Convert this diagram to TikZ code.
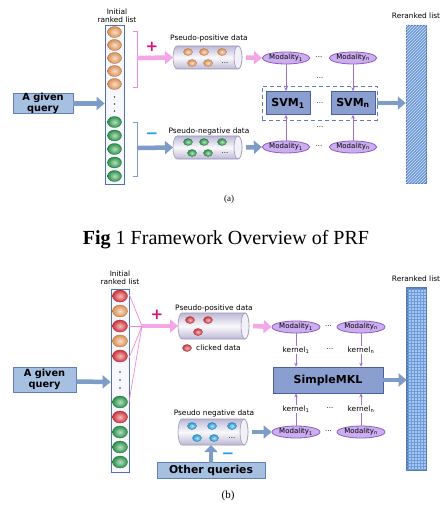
\documentclass[tikz,border=0pt]{standalone}
\usepackage{fontspec}
\setmainfont{Liberation Serif}
\newfontfamily\lab{DejaVu Sans}
\usetikzlibrary{arrows.meta,shapes.geometric,patterns}
\definecolor{orgc}{HTML}{F0A060}
\definecolor{grnc}{HTML}{30A050}
\definecolor{redc}{HTML}{E03C44}
\definecolor{cyac}{HTML}{2AA8E8}
\definecolor{pinkA}{HTML}{F4A6E6}
\definecolor{pinkL}{HTML}{EE88DD}
\definecolor{magen}{HTML}{E0107A}
\definecolor{blueA}{HTML}{7E9CC8}
\definecolor{boxF}{HTML}{A6C0E2}
\definecolor{boxD}{HTML}{5F7FB5}
\definecolor{svmF}{HTML}{8A9ED0}
\definecolor{svmD}{HTML}{4D5E9E}
\definecolor{modF}{HTML}{CCAEEE}
\definecolor{modD}{HTML}{8C5CC8}
\definecolor{purL}{HTML}{A070D8}
\definecolor{listD}{HTML}{5070B0}
\definecolor{rrA}{HTML}{6C9ADA}
\definecolor{rrB}{HTML}{A8C8F0}
\definecolor{cylE}{HTML}{BDB8D6}
\definecolor{cylD}{HTML}{9C96B8}
\definecolor{minusC}{HTML}{1E9FE0}
\tikzset{
  querybox/.style={draw=boxD, fill=boxF, line width=0.8pt, font=\lab\bfseries\fontsize{9.8}{10.8}\selectfont, align=center, inner sep=0pt},
  modal/.style={ellipse, draw=modD, fill=modF, line width=0.8pt, minimum width=44pt, minimum height=12pt, inner sep=0pt, font=\lab\fontsize{7}{7.5}\selectfont},
  svmbox/.style={draw=svmD, fill=svmF, line width=0.7pt, minimum width=44pt, minimum height=23pt, inner sep=0pt, font=\lab\bfseries\fontsize{11}{12}\selectfont},
  lbl/.style={font=\lab\fontsize{7.4}{8.4}\selectfont, inner sep=0pt, align=center},
  pinkarrow/.style={pinkA, line width=4.5pt, -{Triangle[width=13pt,length=8pt]}},
  bluearrow/.style={blueA, line width=4.5pt, -{Triangle[width=13pt,length=8pt]}},
  thinarrow/.style={purL, line width=0.9pt, -{Stealth[length=4pt,width=3.5pt]}},
  listcol/.style={draw=listD, fill=blue!3, line width=0.8pt, inner sep=0pt},
  anch/.style={inner sep=0pt, outer sep=0pt},
  dotsl/.style={font=\lab\fontsize{7}{8}\selectfont, inner sep=0pt},
}
% cylinder: #1 x0, #2 x1 (centre of end ellipse), #3 y0 (top), #4 y1 (bottom)
\newcommand\mycyl[4]{%
  \shade[top color=cylE, bottom color=cylE, middle color=white!92!cylE, draw=cylD, line width=0.6pt]
    ({#1+4},#3) -- (#2,#3) arc[start angle=-90, end angle=90, x radius=4, y radius={(#4-#3)/2}]
    -- ({#1+4},#4) arc[start angle=90, end angle=270, x radius=4, y radius={(#4-#3)/2}] -- cycle;
  \draw[draw=cylD, fill=white!80!cylE, line width=0.6pt] (#2,{(#3+#4)/2}) ellipse[x radius=4, y radius={(#4-#3)/2}];
}
% list ball: colour, x, y, rx, ry
\newcommand\ball[5]{\shade[inner color=#1!35, outer color=#1!90!black, draw=#1!70!black, line width=0.3pt] (#2,#3) ellipse[x radius=#4, y radius=#5];}
\begin{document}
\begin{tikzpicture}[x=1pt,y=-1pt]
\useasboundingbox (0,0) rectangle (443,505);
\fill[white] (0,0) rectangle (443,505);

%%%%%%%%%%%%%%%% (a)
\node[lbl] (ila) at (117,16) {Initial\\ranked list};
\node[listcol, minimum width=19pt, minimum height=159pt] (la) at (114.5,104.5) {};
\foreach \y in {32,45,58,71,84} {\ball{orgc}{114.5}{\y}{7}{5.5}}
\foreach \y in {122,135.5,149,162.5,176} {\ball{grnc}{114.5}{\y}{7}{5.5}}
\foreach \y in {97,104,111} {\fill[black!70] (114.5,\y) circle (0.8);}

\node[querybox, minimum width=60pt, minimum height=19pt] (qa) at (43,103.5) {A given\\query};
\draw[bluearrow] (qa.east) -- (la.west |- qa.east);

% braces
\draw[pinkL, line width=0.8pt] (133,31) -- (137,31) -- (137,87) -- (133,87);
\coordinate (bpa) at (137,58);
\draw[blueA, line width=0.8pt] (133,122) -- (137,122) -- (137,176) -- (133,176);
\coordinate (bna) at (137,148);

% cylinders
\mycyl{173}{238}{46}{69}
\node[anch, minimum width=69pt, minimum height=23pt] (cpa) at (207.5,57.5) {};
\foreach \x/\y in {188/52,204/52,222/52,192/63,208/63} {\ball{orgc}{\x}{\y}{4.5}{3.5}}
\node[dotsl] at (225,63) {...};
\node[lbl] (tpa) at (209,38) {Pseudo-positive data};

\mycyl{173}{238}{136}{159}
\node[anch, minimum width=69pt, minimum height=23pt] (cna) at (207.5,147.5) {};
\foreach \x/\y in {188/142,204/142,222/142,192/153,208/153} {\ball{grnc}{\x}{\y}{4.5}{3.5}}
\node[dotsl] at (225,153) {...};
\node[lbl] (tna) at (209,131) {Pseudo-negative data};

\draw[pinkarrow] (bpa) -- (cpa.west);
\draw[bluearrow] (bna) -- (cna.west);
\node[text=magen, font=\lab\bfseries\fontsize{15}{15}\selectfont, inner sep=0pt] (plusa) at (152,47) {+};
\node[text=minusC, font=\lab\bfseries\fontsize{15}{15}\selectfont, inner sep=0pt] (mina) at (152,136) {−};

% modalities
\node[modal] (mpa1) at (286,58) {Modality\textsubscript{1}};
\node[modal] (mpan) at (353,58) {Modality\textsubscript{n}};
\node[modal] (mna1) at (286,147) {Modality\textsubscript{1}};
\node[modal] (mnan) at (353,147) {Modality\textsubscript{n}};
\node[dotsl] at (319,58) {···};
\node[dotsl] at (319,147) {···};
\draw[pinkarrow] (cpa.east) ++(4,0) -- (mpa1.west);
\draw[bluearrow] (cna.east) ++(4,0) -- (mna1.west);

% SVMs
\node[draw=boxD, dashed, dash pattern=on 4pt off 3pt, line width=0.9pt, minimum width=115pt, minimum height=34pt, inner sep=0pt] (dbox) at (319.5,103) {};
\node[svmbox] (svm1) at (288,103) {SVM\textsubscript{1}};
\node[svmbox] (svmn) at (353,103) {SVM\textsubscript{n}};
\node[dotsl] at (320,103) {...};
\node[dotsl] at (320,78) {...};
\node[dotsl] at (320,127) {...};
\draw[thinarrow] (mpa1.south) -- (mpa1.south |- svm1.north);
\draw[thinarrow] (mpan.south) -- (mpan.south |- svmn.north);
\draw[thinarrow] (mna1.north) -- (mna1.north |- svm1.south);
\draw[thinarrow] (mnan.north) -- (mnan.north |- svmn.south);

% reranked list (a)
\node[lbl] (rla) at (416,16) {Reranked list};
\node[draw=rrA!80!black, fill=rrA, line width=0.5pt, minimum width=20pt, minimum height=158pt, inner sep=0pt] (rra) at (416,104) {};
\fill[pattern=north east lines, pattern color=white!70!rrA] (rra.south west) rectangle (rra.north east);
\draw[bluearrow] (dbox.east) -- (rra.west |- dbox.east);

\node[font=\fontsize{9}{10}\selectfont, inner sep=0pt] (capa) at (229,199) {(a)};
\node[font=\fontsize{20}{22}\selectfont, inner sep=0pt] (fig) at (226,240) {\textbf{Fig} 1 Framework Overview of PRF};

%%%%%%%%%%%%%%%% (b)
\node[lbl] (ilb) at (120,278) {Initial\\ranked list};
\node[listcol, minimum width=18pt, minimum height=183pt] (lb) at (120,380.5) {};
\foreach \y/\c in {296/redc,311/orgc,326/redc,341/orgc,356/redc,402/grnc,417/redc,432/grnc,447/grnc,462/grnc} {\ball{\c}{120}{\y}{7.5}{6}}
\foreach \y in {372,380,388} {\fill[black!70] (120,\y) circle (0.8);}

\node[querybox, minimum width=63pt, minimum height=25pt] (qb) at (44.5,379.5) {A given\\query};
\draw[bluearrow] (qb.east) ++(0,2) -- (lb.west |- 0,382);

% pink converging lines
\coordinate (cv) at (142,326);
\coordinate (r1) at (129,294);
\coordinate (r3) at (129,326);
\coordinate (r5) at (129,358);
\coordinate (r7) at (129,402);
\foreach \r in {r1,r3,r5,r7} {\draw[pinkL, line width=0.7pt] (\r) -- (cv);}

\mycyl{178}{245}{313}{339}
\node[anch, minimum width=71pt, minimum height=26pt] (cpb) at (213.5,326) {};
\foreach \x/\y in {190/320,208/320,198/332} {\ball{redc}{\x}{\y}{4.5}{3.5}}
\node[lbl] (tpb) at (214,308) {Pseudo-positive data};
\ball{redc}{187}{348}{4.5}{3.5}
\node[lbl, anchor=west] (clk) at (196,348) {clicked data};

\draw[pinkarrow] (cv) -- (cpb.west);
\node[text=magen, font=\lab\bfseries\fontsize{15}{15}\selectfont, inner sep=0pt] (plusb) at (157,315) {+};

\mycyl{178}{244}{419}{445}
\node[anch, minimum width=70pt, minimum height=26pt] (cnb) at (213,432) {};
\foreach \x/\y in {192/426,212/426,232/426,197/438,214/438} {\ball{cyac}{\x}{\y}{4.5}{3.5}}
\node[dotsl] at (232,438) {...};
\node[lbl] (tnb) at (214,413) {Pseudo negative data};

\node[querybox, font=\lab\bfseries\fontsize{10.8}{11.8}\selectfont, minimum width=108pt, minimum height=16pt] (oq) at (211,470.5) {Other queries};
\draw[bluearrow, -{Triangle[width=13pt,length=7pt]}] (211,462.5) -- (cnb.south -| 211,0);
\node[text=minusC, font=\lab\bfseries\fontsize{15}{15}\selectfont, inner sep=0pt] (minb) at (228,456) {−};

% modalities (b)
\node[modal, minimum width=48pt] (mpb1) at (296,327) {Modality\textsubscript{1}};
\node[modal, minimum width=48pt] (mpbn) at (361,327) {Modality\textsubscript{n}};
\node[modal, minimum width=48pt] (mnb1) at (296,432) {Modality\textsubscript{1}};
\node[modal, minimum width=48pt] (mnbn) at (361,432) {Modality\textsubscript{n}};
\node[dotsl] at (328.5,327) {···};
\node[dotsl] at (328.5,432) {···};
\draw[pinkarrow] (cpb.east) ++(4,0) -- (mpb1.west);
\draw[bluearrow] (cnb.east) ++(4,0) -- (mnb1.west);

\node[svmbox, minimum width=110pt, minimum height=26pt] (mkl) at (328,380) {SimpleMKL};
\node[lbl] (k1u) at (296,350) {kernel\textsubscript{1}};
\node[lbl] (knu) at (361,350) {kernel\textsubscript{n}};
\node[lbl] (k1d) at (296,409) {kernel\textsubscript{1}};
\node[lbl] (knd) at (361,409) {kernel\textsubscript{n}};
\node[dotsl] at (330,350) {···};
\node[dotsl] at (330,409) {···};
\draw[purL, line width=0.9pt] (mpb1.south) -- (k1u.north);
\draw[purL, line width=0.9pt] (mpbn.south) -- (knu.north);
\draw[thinarrow] (k1u.south) -- (k1u.south |- mkl.north);
\draw[thinarrow] (knu.south) -- (knu.south |- mkl.north);
\draw[purL, line width=0.9pt] (mnb1.north) -- (k1d.south);
\draw[purL, line width=0.9pt] (mnbn.north) -- (knd.south);
\draw[thinarrow] (k1d.north) -- (k1d.north |- mkl.south);
\draw[thinarrow] (knd.north) -- (knd.north |- mkl.south);

% reranked list (b)
\node[lbl] (rlb) at (416,279) {Reranked list};
\node[draw=rrA!80!black, fill=rrB, line width=0.6pt, minimum width=19pt, minimum height=182pt, inner sep=0pt] (rrb) at (416.5,379) {};
\fill[pattern=grid, pattern color=rrA] (rrb.south west) rectangle (rrb.north east);
\draw[rrA!80!black, line width=0.6pt] (rrb.south west) rectangle (rrb.north east);
\draw[bluearrow] (mkl.east) -- (rrb.west |- mkl.east);

\node[font=\fontsize{11}{12}\selectfont, inner sep=0pt] (capb) at (228,496) {(b)};
\end{tikzpicture}
\end{document}
